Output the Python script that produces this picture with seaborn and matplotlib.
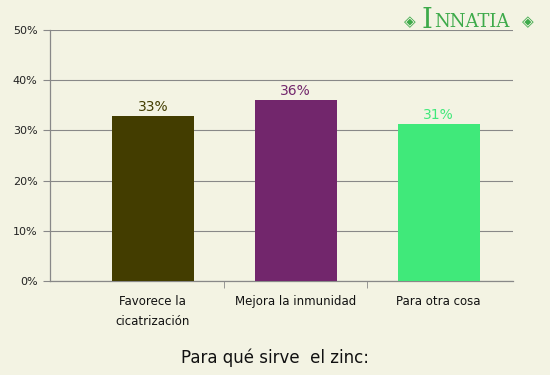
import matplotlib.pyplot as plt
import seaborn as sns
import pandas as pd

categories = ["Favorece la\ncicatrización", "Mejora la inmunidad", "Para otra cosa"]
values = [32.9, 36.1, 31.3]
labels = ["33%", "36%", "31%"]
colors = ["#433D00", "#72266C", "#40E97A"]
yticks = [0, 10, 20, 30, 40, 50]

bg = "#F3F3E3"
df = pd.DataFrame({"cat": categories, "val": values})

sns.set_style("white")
fig = plt.figure(figsize=(5.5, 3.75), dpi=100, facecolor=bg)
ax = fig.add_axes([50 / 550, 1 - 281 / 375, 463 / 550, 251 / 375], facecolor=bg)

sns.barplot(data=df, x="cat", y="val", hue="cat", palette=colors, legend=False,
            width=0.573, saturation=1, linewidth=0, ax=ax, zorder=3)

ax.set_xlim(-0.72, 2.52)
ax.set_ylim(0, 50)
ax.set_yticks(yticks)
ax.set_yticklabels([f"{t}%" for t in yticks], fontsize=8, color="#222222")
ax.yaxis.grid(True, color="#888888", lw=0.8, zorder=0)
ax.tick_params(axis="y", length=5, color="#888888", pad=4, left=True)

ax.set_xticks([0, 1, 2])
ax.set_xticklabels(categories, fontsize=8.5, color="#111111", linespacing=1.75)
ax.tick_params(axis="x", length=0, pad=10)
ax.set_xticks([0.5, 1.5], minor=True)
ax.tick_params(axis="x", which="minor", length=5, color="#888888", bottom=True)

for s in ["top", "right"]:
    ax.spines[s].set_visible(False)
for s in ["left", "bottom"]:
    ax.spines[s].set_color("#888888")
    ax.spines[s].set_linewidth(0.9)

ax.set_xlabel("")
ax.set_ylabel("")

for i, (v, lab, c) in enumerate(zip(values, labels, colors)):
    ax.text(i, v + 0.4, lab, ha="center", va="bottom", fontsize=10, color=c)

fig.text(0.5, 1 - 358 / 375, "Para qué sirve  el zinc:", ha="center", va="center",
         fontsize=12, color="#111111")

# logo
green = "#3DAA4A"
fig.text(427 / 550, 1 - 21 / 375, "I", ha="center", va="center",
         fontsize=20, color=green, family="DejaVu Serif")
fig.text(434 / 550, 1 - 22 / 375, "NNATIA", ha="left", va="center",
         fontsize=13, color=green, family="DejaVu Serif")
fig.text(410 / 550, 1 - 22 / 375, "◈", ha="center", va="center", fontsize=11, color=green)
fig.text(528 / 550, 1 - 22 / 375, "◈", ha="center", va="center", fontsize=11, color=green)

fig.savefig("out.png", dpi=100, facecolor=bg)
